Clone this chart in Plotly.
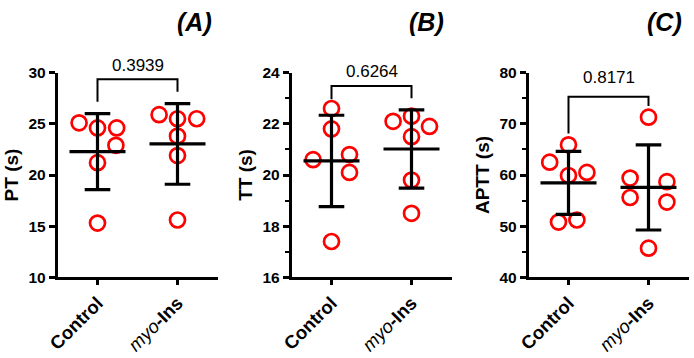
import numpy as np
import plotly.graph_objects as go

# ---------------- data ----------------
group_ticktext = ["<b>Control</b>", "<i>myo</i><b>-Ins</b>"]

pt_control = [25.1, 24.6, 24.6, 22.9, 21.2, 15.3]
pt_myo = [25.9, 25.5, 25.5, 23.8, 21.9, 15.6]
tt_control = [22.6, 21.8, 20.6, 20.8, 20.1, 17.4]
tt_myo = [22.1, 22.3, 21.9, 21.5, 19.8, 18.5]
aptt_control = [62.5, 65.9, 59.9, 60.5, 50.8, 51.2]
aptt_myo = [71.3, 59.4, 55.6, 58.7, 54.7, 45.7]

p_values = ["0.3939", "0.6264", "0.8171"]
panel_labels = ["(A)", "(B)", "(C)"]
y_titles = ["PT (s)", "TT (s)", "APTT (s)"]

# ---------------- layout helpers (positions / styles) ----------------
# horizontal scatter offsets of each point (category units)
jit_pt_c = [-0.23, 0, 0.24, 0.23, 0, 0]
jit_pt_m = [-0.23, 0, 0.24, 0, 0, 0]
jit_tt_c = [0, 0, -0.23, 0.225, 0.225, 0]
jit_tt_m = [-0.23, 0, 0.225, 0, 0, 0]
jit_ap_c = [-0.235, 0, 0, 0.23, -0.125, 0.105]
jit_ap_m = [0, -0.23, -0.23, 0.23, 0.23, 0]

y_ranges = [[10, 30], [16, 24], [40, 80]]
y_dticks = [5, 2, 10]
y_minor = [None, 1, 5]
bracket_top = [29.35, 23.48, 75.3]
bracket_legs = [[27.17, 28.14], [22.96, 23.0], [68.1, 73.5]]
pval_shift = [14, 15, 19]

W, H = 694, 358
x_px = [(57.5, 217.5), (291.5, 451.5), (528.5, 688.5)]
y_dom = [1 - 277.3 / H, 1 - 72.7 / H]
label_px = [(194, 22), (426.5, 22), (664, 22)]

FONT = "Liberation Sans, Arial, sans-serif"
RED = "#FF0000"
BLACK = "#000000"

panels = [
    (pt_control, pt_myo, jit_pt_c, jit_pt_m),
    (tt_control, tt_myo, jit_tt_c, jit_tt_m),
    (aptt_control, aptt_myo, jit_ap_c, jit_ap_m),
]

fig = go.Figure()
layout = dict(
    width=W, height=H,
    margin=dict(l=0, r=0, t=0, b=0, autoexpand=False),
    paper_bgcolor="white", plot_bgcolor="white",
    showlegend=False,
    font=dict(family=FONT, color=BLACK),
    annotations=[],
)

for i, (c_vals, m_vals, jc, jm) in enumerate(panels):
    sfx = "" if i == 0 else str(i + 1)
    xa, ya = "x" + sfx, "y" + sfx
    # points
    for g, (vals, jit) in enumerate([(c_vals, jc), (m_vals, jm)]):
        fig.add_trace(go.Scatter(
            x=[g + j for j in jit], y=vals, mode="markers",
            marker=dict(symbol="circle-open", size=15, color=RED,
                        line=dict(width=2.7, color=RED)),
            xaxis=xa, yaxis=ya, cliponaxis=False, hoverinfo="skip"))
    # mean +/- SD
    for g, vals in enumerate([c_vals, m_vals]):
        arr = np.array(vals, dtype=float)
        mu, sd = arr.mean(), arr.std(ddof=1)
        xs = [g - 0.35, g + 0.35, None, g, g, None,
              g - 0.16, g + 0.16, None, g - 0.16, g + 0.16]
        ys = [mu, mu, None, mu - sd, mu + sd, None,
              mu + sd, mu + sd, None, mu - sd, mu - sd]
        fig.add_trace(go.Scatter(
            x=xs, y=ys, mode="lines", line=dict(color=BLACK, width=3.2),
            xaxis=xa, yaxis=ya, cliponaxis=False, hoverinfo="skip"))
    # comparison bracket
    fig.add_trace(go.Scatter(
        x=[0, 0, 1, 1],
        y=[bracket_legs[i][0], bracket_top[i], bracket_top[i], bracket_legs[i][1]],
        mode="lines", line=dict(color=BLACK, width=2),
        xaxis=xa, yaxis=ya, cliponaxis=False, hoverinfo="skip"))
    layout["annotations"].append(dict(
        x=0.5, y=bracket_top[i], xref=xa, yref=ya, text=p_values[i],
        showarrow=False, font=dict(size=17, family=FONT, color=BLACK),
        xanchor="center", yanchor="middle", yshift=pval_shift[i]))
    layout["annotations"].append(dict(
        x=label_px[i][0] / W, y=1 - label_px[i][1] / H, xref="paper", yref="paper",
        text="<b><i>" + panel_labels[i] + "</i></b>", showarrow=False,
        font=dict(size=25, family=FONT, color=BLACK),
        xanchor="center", yanchor="middle"))

    layout["xaxis" + sfx] = dict(
        domain=[x_px[i][0] / W, x_px[i][1] / W], anchor=ya,
        range=[-0.5, 1.5], tickmode="array", tickvals=[0, 1],
        ticktext=group_ticktext, tickangle=-45, automargin=False,
        showline=True, linecolor=BLACK, linewidth=2.5,
        ticks="outside", ticklen=5, tickwidth=2.5, tickcolor=BLACK,
        showgrid=False, zeroline=False, fixedrange=True,
        tickfont=dict(size=18.5, family=FONT, color=BLACK))
    ydict = dict(
        domain=y_dom, anchor=xa, range=y_ranges[i],
        dtick=y_dticks[i], tick0=0, automargin=False,
        showline=True, linecolor=BLACK, linewidth=2.5,
        ticks="outside", ticklen=6, tickwidth=2.5, tickcolor=BLACK,
        showgrid=False, zeroline=False, fixedrange=True,
        tickfont=dict(size=15.5, family=FONT, color=BLACK),
        tickprefix="<b>", ticksuffix="</b>",
        title=dict(text="<b>" + y_titles[i] + "</b>",
                   font=dict(size=19, family=FONT, color=BLACK), standoff=5))
    if y_minor[i] is not None:
        ydict["minor"] = dict(dtick=y_minor[i], ticks="outside", ticklen=4,
                              tickwidth=2, tickcolor=BLACK, showgrid=False)
    layout["yaxis" + sfx] = ydict

fig.update_layout(**layout)
fig.write_html(
    "out.html",
    config={"displayModeBar": False},
    post_script="document.body.style.margin='0';document.body.style.overflow='hidden';",
)
